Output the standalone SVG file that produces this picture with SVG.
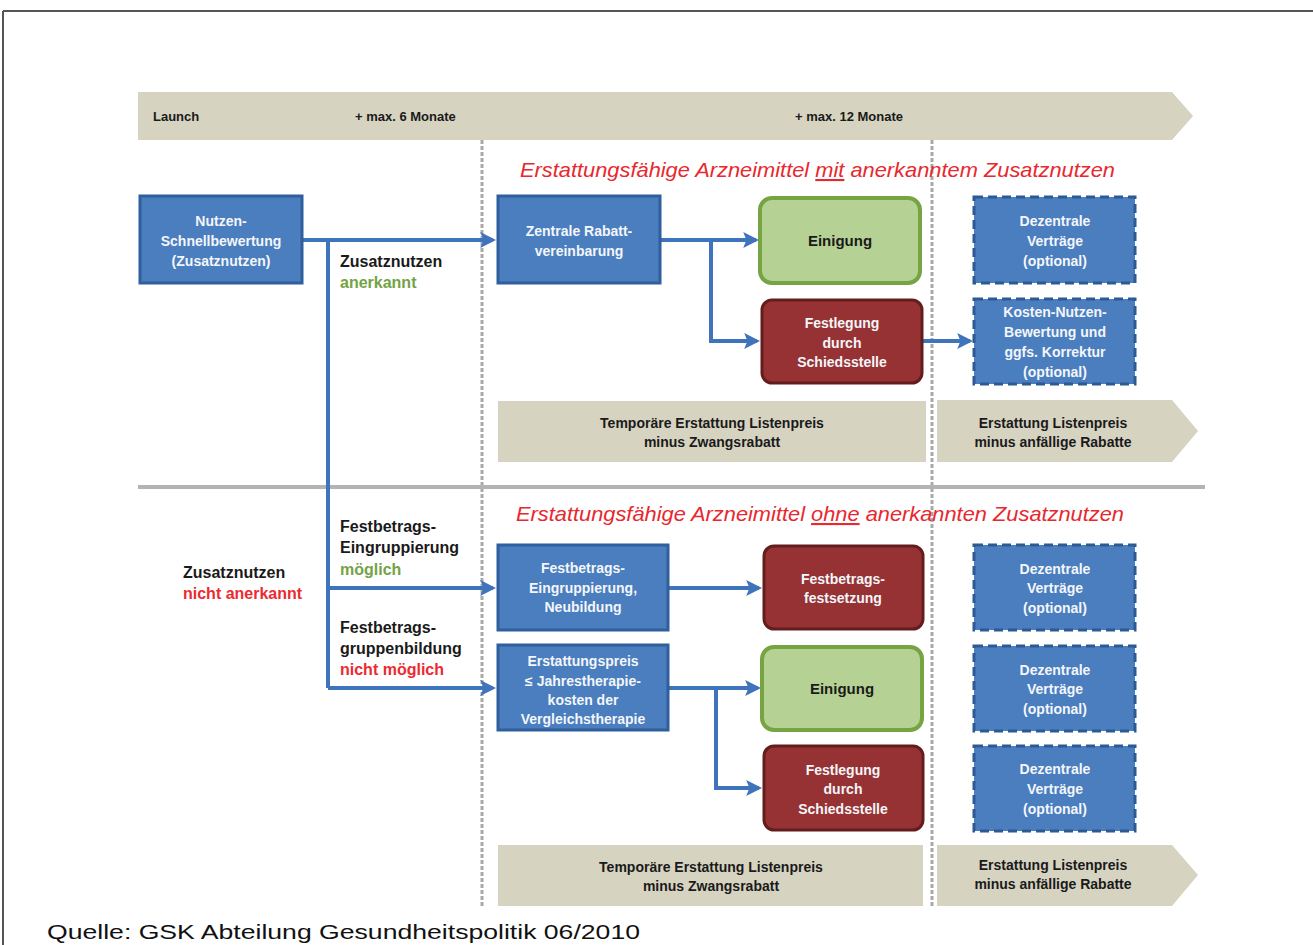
<svg xmlns="http://www.w3.org/2000/svg" width="1313" height="945" viewBox="0 0 1313 945">
<defs>
<marker id="ah" markerWidth="4" markerHeight="4" refX="3.2" refY="2" orient="auto" markerUnits="strokeWidth">
<path d="M0,0 L4,2 L0,4 L0.8,2 Z" fill="#3f74bd"/>
</marker>
<style>
.blue{fill:#4a7ebf;stroke:#2f5f9c;stroke-width:3}
.dash{fill:#4a7ebf;stroke:#2c5a94;stroke-width:3;stroke-dasharray:9 5}
.green{fill:#b5d294;stroke:#76a442;stroke-width:4}
.red{fill:#963233;stroke:#641d1d;stroke-width:3}
.beige{fill:#d6d3c1}
.wt{font-family:"Liberation Sans",Arial,sans-serif;font-weight:bold;font-size:14px;fill:#f4f6fa;text-anchor:middle}
.bt{font-family:"Liberation Sans",Arial,sans-serif;font-weight:bold;font-size:15px;fill:#1a1a1a;text-anchor:middle}
.nt{font-family:"Liberation Sans",Arial,sans-serif;font-weight:bold;font-size:14px;fill:#1a1a1a;text-anchor:middle}
.hd{font-family:"Liberation Sans",Arial,sans-serif;font-weight:bold;font-size:13px;fill:#1a1a1a}
.lb{font-family:"Liberation Sans",Arial,sans-serif;font-weight:bold;font-size:16px;fill:#1a1a1a}
.g{fill:#74a246}
.r{fill:#ec2a30}
.ttl{font-family:"Liberation Sans",Arial,sans-serif;font-style:italic;font-size:21px;fill:#e8282e}
.con{fill:none;stroke:#3f74bd;stroke-width:4}
.vd{stroke:#a9a9a9;stroke-width:3;stroke-dasharray:4 2}
</style>
</defs>
<rect width="1313" height="945" fill="#ffffff"/>
<g id="frame">
<line x1="3" y1="11" x2="1313" y2="11" stroke="#555" stroke-width="2"/>
<line x1="3" y1="11" x2="3" y2="945" stroke="#555" stroke-width="2"/>
</g>
<g id="timeline">
<polygon class="beige" points="138,92 1172,92 1193,116 1172,140 138,140"/>
<text class="hd" x="153" y="121">Launch</text>
<text class="hd" x="355" y="121">+ max. 6 Monate</text>
<text class="hd" x="795" y="121">+ max. 12 Monate</text>
</g>
<g id="guides">
<line class="vd" x1="482" y1="140" x2="482" y2="906"/>
<line class="vd" x1="932" y1="140" x2="932" y2="906"/>
<line x1="138" y1="487" x2="1205" y2="487" stroke="#b3b3b3" stroke-width="4"/>
</g>
<g id="titles">
<text class="ttl" x="520" y="177" textLength="595" lengthAdjust="spacingAndGlyphs">Erstattungsfähige Arzneimittel <tspan text-decoration="underline">mit</tspan> anerkanntem Zusatznutzen</text>
<text class="ttl" x="516" y="521" textLength="608" lengthAdjust="spacingAndGlyphs">Erstattungsfähige Arzneimittel <tspan text-decoration="underline">ohne</tspan> anerkannten Zusatznutzen</text>
</g>
<g id="connectors">
<path class="con" d="M302,240 H493" marker-end="url(#ah)"/>
<path class="con" d="M328,240 V688"/>
<path class="con" d="M328,588 H493" marker-end="url(#ah)"/>
<path class="con" d="M328,688 H493" marker-end="url(#ah)"/>
<path class="con" d="M660,240 H756" marker-end="url(#ah)"/>
<path class="con" d="M711,240 V341 H757" marker-end="url(#ah)"/>
<path class="con" d="M922,341 H970" marker-end="url(#ah)"/>
<path class="con" d="M668,588 H759" marker-end="url(#ah)"/>
<path class="con" d="M668,688 H758" marker-end="url(#ah)"/>
<path class="con" d="M716,688 V788 H759" marker-end="url(#ah)"/>
</g>
<g id="labels">
<text class="lb" x="340" y="267">Zusatznutzen</text>
<text class="lb g" x="340" y="288">anerkannt</text>
<text class="lb" x="183" y="578">Zusatznutzen</text>
<text class="lb r" x="183" y="599">nicht anerkannt</text>
<text class="lb" x="340" y="532">Festbetrags-</text>
<text class="lb" x="340" y="553">Eingruppierung</text>
<text class="lb g" x="340" y="575">möglich</text>
<text class="lb" x="340" y="633">Festbetrags-</text>
<text class="lb" x="340" y="654">gruppenbildung</text>
<text class="lb r" x="340" y="675">nicht möglich</text>
</g>
<g id="n-schnell">
<rect class="blue" x="140" y="196" width="162" height="87"/>
<text class="wt" x="221" y="226">Nutzen-</text>
<text class="wt" x="221" y="246">Schnellbewertung</text>
<text class="wt" x="221" y="266">(Zusatznutzen)</text>
</g>
<g id="n-zentral">
<rect class="blue" x="498" y="196" width="162" height="87"/>
<text class="wt" x="579" y="236">Zentrale Rabatt-</text>
<text class="wt" x="579" y="256">vereinbarung</text>
</g>
<g id="n-einigung1">
<rect class="green" x="760" y="198" width="160" height="85" rx="12"/>
<text class="bt" x="840" y="246">Einigung</text>
</g>
<g id="n-festlegung1">
<rect class="red" x="762" y="300" width="160" height="83" rx="10"/>
<text class="wt" x="842" y="328">Festlegung</text>
<text class="wt" x="842" y="348">durch</text>
<text class="wt" x="842" y="367">Schiedsstelle</text>
</g>
<g id="n-dezentral1">
<rect class="dash" x="974" y="197" width="161" height="86"/>
<text class="wt" x="1055" y="226">Dezentrale</text>
<text class="wt" x="1055" y="246">Verträge</text>
<text class="wt" x="1055" y="266">(optional)</text>
</g>
<g id="n-kosten">
<rect class="dash" x="974" y="299" width="161" height="85"/>
<text class="wt" x="1055" y="317">Kosten-Nutzen-</text>
<text class="wt" x="1055" y="337">Bewertung und</text>
<text class="wt" x="1055" y="357">ggfs. Korrektur</text>
<text class="wt" x="1055" y="377">(optional)</text>
</g>
<g id="n-temp1">
<rect class="beige" x="498" y="401" width="428" height="61"/>
<text class="nt" x="712" y="428">Temporäre Erstattung Listenpreis</text>
<text class="nt" x="712" y="447">minus Zwangsrabatt</text>
</g>
<g id="n-erst1">
<polygon class="beige" points="937,400 1172,400 1198,431 1172,462 937,462"/>
<text class="nt" x="1053" y="428">Erstattung Listenpreis</text>
<text class="nt" x="1053" y="447">minus anfällige Rabatte</text>
</g>
<g id="n-eingrupp">
<rect class="blue" x="498" y="545" width="170" height="85"/>
<text class="wt" x="583" y="573">Festbetrags-</text>
<text class="wt" x="583" y="593">Eingruppierung,</text>
<text class="wt" x="583" y="612">Neubildung</text>
</g>
<g id="n-festsetzung">
<rect class="red" x="764" y="546" width="159" height="83" rx="10"/>
<text class="wt" x="843" y="584">Festbetrags-</text>
<text class="wt" x="843" y="603">festsetzung</text>
</g>
<g id="n-erstattungspreis">
<rect class="blue" x="498" y="645" width="170" height="85"/>
<text class="wt" x="583" y="666">Erstattungspreis</text>
<text class="wt" x="583" y="686">≤ Jahrestherapie-</text>
<text class="wt" x="583" y="705">kosten der</text>
<text class="wt" x="583" y="724">Vergleichstherapie</text>
</g>
<g id="n-einigung2">
<rect class="green" x="762" y="647" width="160" height="83" rx="12"/>
<text class="bt" x="842" y="694">Einigung</text>
</g>
<g id="n-festlegung2">
<rect class="red" x="764" y="746" width="159" height="84" rx="10"/>
<text class="wt" x="843" y="775">Festlegung</text>
<text class="wt" x="843" y="794">durch</text>
<text class="wt" x="843" y="814">Schiedsstelle</text>
</g>
<g id="n-dezentral2">
<rect class="dash" x="974" y="545" width="161" height="85"/>
<text class="wt" x="1055" y="574">Dezentrale</text>
<text class="wt" x="1055" y="593">Verträge</text>
<text class="wt" x="1055" y="613">(optional)</text>
</g>
<g id="n-dezentral3">
<rect class="dash" x="974" y="646" width="161" height="85"/>
<text class="wt" x="1055" y="675">Dezentrale</text>
<text class="wt" x="1055" y="694">Verträge</text>
<text class="wt" x="1055" y="714">(optional)</text>
</g>
<g id="n-dezentral4">
<rect class="dash" x="974" y="746" width="161" height="85"/>
<text class="wt" x="1055" y="774">Dezentrale</text>
<text class="wt" x="1055" y="794">Verträge</text>
<text class="wt" x="1055" y="814">(optional)</text>
</g>
<g id="n-temp2">
<rect class="beige" x="498" y="845" width="425" height="61"/>
<text class="nt" x="711" y="872">Temporäre Erstattung Listenpreis</text>
<text class="nt" x="711" y="891">minus Zwangsrabatt</text>
</g>
<g id="n-erst2">
<polygon class="beige" points="937,845 1172,845 1198,875 1172,906 937,906"/>
<text class="nt" x="1053" y="870">Erstattung Listenpreis</text>
<text class="nt" x="1053" y="889">minus anfällige Rabatte</text>
</g>
<g id="source">
<text x="47" y="939" font-family="'Liberation Sans',Arial,sans-serif" font-size="21" fill="#111" textLength="593" lengthAdjust="spacingAndGlyphs">Quelle: GSK Abteilung Gesundheitspolitik 06/2010</text>
</g>
</svg>
